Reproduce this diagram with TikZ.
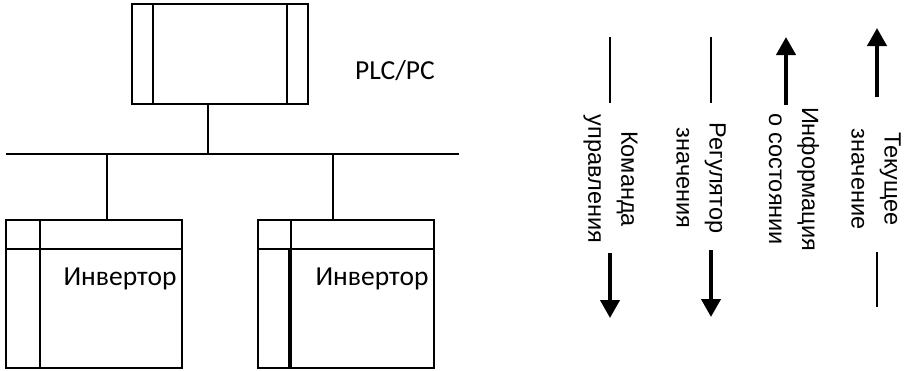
\documentclass[tikz,border=0pt]{standalone}
\usepackage{fontspec}
\setmainfont{Carlito}
\newfontfamily\arialfont{Liberation Sans}
\usetikzlibrary{arrows.meta, positioning, calc}
\tikzset{every node/.style={font=\fontsize{27.5}{33}\selectfont}}
\tikzset{
  unitbox/.style={draw, line width=1.8pt, inner sep=0pt, outer sep=0pt, anchor=north west, minimum width=176pt},
  thinline/.style={line width=1.6pt},
  flow/.style={line width=4pt, -{Triangle[length=18pt, width=19pt]}},
  flowtext/.style={rotate=-90, align=center, inner sep=0pt, font=\arialfont\fontsize{23.5}{33}\selectfont}
}

\begin{document}
\begin{tikzpicture}[x=1pt, y=-1pt]
    \useasboundingbox (0,0) rectangle (907,370);
    \node[unitbox, minimum height=100pt] (plc) at (132,4) {};
    \draw[thinline] ([xshift=21pt]plc.north west) -- ([xshift=21pt]plc.south west);
    \draw[thinline] ([xshift=-21pt]plc.north east) -- ([xshift=-21pt]plc.south east);
    \node[anchor=base] (plclabel) at (395,79) {PLC/PC};
    \coordinate (busw) at (6,154);
    \coordinate (buse) at (459,154);
    \draw[thinline] (busw) -- (buse);
    \draw[thinline] ([xshift=-12pt]plc.south) -- ([xshift=-12pt]plc.south |- busw);
    \node[unitbox, minimum height=148pt] (inv1) at (6,220) {};
    \draw[thinline] ([yshift=-29pt]inv1.north west) -- ([yshift=-29pt]inv1.north east);
    \draw[thinline] ([xshift=34pt]inv1.north west) -- ([xshift=34pt]inv1.south west);
    \draw[thinline] ([xshift=13pt]inv1.north) -- ([xshift=13pt]inv1.north |- busw);
    \node[anchor=base] (inv1label) at (120,285) {Инвертор};
    \node[unitbox, minimum height=148pt] (inv2) at (258,220) {};
    \draw[thinline] ([yshift=-29pt]inv2.north west) -- ([yshift=-29pt]inv2.north east);
    \draw[thinline] ([xshift=33pt]inv2.north west) -- ([xshift=33pt]inv2.south west);
    \draw[thinline] ([xshift=31pt, yshift=-29pt]inv2.north west) -- ([xshift=31pt]inv2.south west);
    \draw[thinline] ([xshift=-13pt]inv2.north) -- ([xshift=-13pt]inv2.north |- busw);
    \node[anchor=base] (inv2label) at (372,285) {Инвертор};
    \node[flowtext] (cmdlabel) at (610.5,179) {Команда\\управления};
    \coordinate (cmdtop) at (610,37);
    \coordinate (cmdmid) at (610,103);
    \coordinate (cmdfrom) at (610,253);
    \coordinate (cmdto) at (610,318);
    \draw[thinline] (cmdtop) -- (cmdmid);
    \draw[flow] (cmdfrom) -- (cmdto);
    \node[flowtext] (reglabel) at (701,178) {Регулятор\\значения};
    \coordinate (regtop) at (711,37);
    \coordinate (regmid) at (711,103);
    \coordinate (regfrom) at (711,250);
    \coordinate (regto) at (711,317);
    \draw[thinline] (regtop) -- (regmid);
    \draw[flow] (regfrom) -- (regto);
    \node[flowtext] (infolabel) at (794,179) {Информация\\о состоянии};
    \coordinate (infofrom) at (786,105);
    \coordinate (infoto) at (786,37);
    \draw[flow] (infofrom) -- (infoto);
    \node[flowtext] (curlabel) at (876,179) {Текущее\\значение};
    \coordinate (curfrom) at (877,97);
    \coordinate (curto) at (877,28);
    \coordinate (curmid) at (877,252);
    \coordinate (curend) at (877,307);
    \draw[flow] (curfrom) -- (curto);
    \draw[thinline] (curmid) -- (curend);
  \end{tikzpicture}
\end{document}
